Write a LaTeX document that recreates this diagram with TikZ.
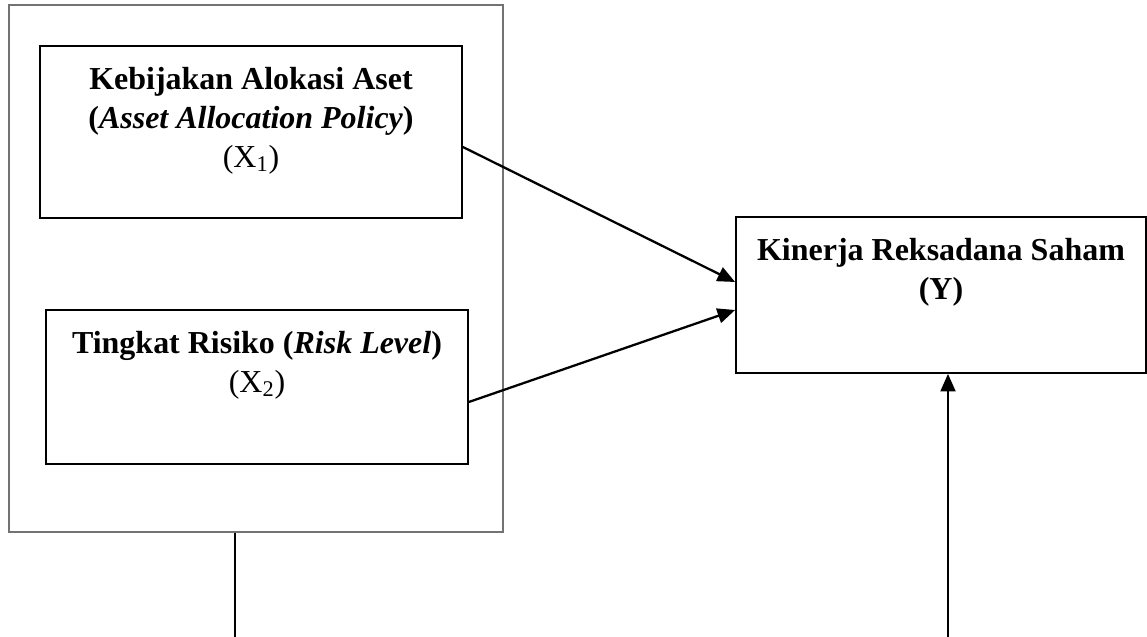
\documentclass[tikz,border=0pt]{standalone}
\usepackage{fontspec}
\setmainfont{Liberation Serif}
\usetikzlibrary{arrows.meta,positioning}

\begin{document}
\begin{tikzpicture}[
    varbox/.style={draw=black, line width=1pt, minimum width=#1},
    boxtext/.style={anchor=north, align=center, font=\fontsize{18.2}{22.2}\selectfont\bfseries, yshift=-9pt},
    link/.style={line width=1.3pt, -{Triangle[length=10pt,width=8.5pt]}}
  ]
    \useasboundingbox (0,0) rectangle (22.94,12.74);
    % Outer frame around the independent variables
    \node[draw=black!55, line width=0.7pt, minimum width=9.88cm, minimum height=10.54cm] (grp) at (5.12,7.37) {};
    % Variable boxes
    \node[varbox=8.44cm, minimum height=3.44cm] (x1) at (5.02,10.10) {};
    \node[varbox=8.44cm, minimum height=3.08cm] (x2) at (5.14,5.00) {};
    \node[varbox=8.20cm, minimum height=3.12cm] (y) at (18.82,6.84) {};
    % Labels
    \node[boxtext] (x1lbl) at (x1.north) {Kebijakan Alokasi Aset\\(\textit{Asset Allocation Policy})\\\mdseries (X\textsubscript{1})};
    \node[boxtext] (x2lbl) at (x2.north) {Tingkat Risiko (\textit{Risk Level})\\\mdseries (X\textsubscript{2})};
    \node[boxtext] (ylbl) at (y.north) {Kinerja Reksadana Saham\\(Y)};
    % Arrows into Y
    \draw[link] ([yshift=-0.30cm]x1.east) -- ([yshift=0.26cm]y.west);
    \draw[link] ([yshift=-0.30cm]x2.east) -- ([yshift=-0.30cm]y.west);
    % Lines from the bottom edge
    \coordinate (grpend) at (4.70,0);
    \coordinate (yend) at (18.96,0);
    \draw[line width=1.1pt] (grp.south -| grpend) -- (grpend);
    \draw[link] (yend) -- (yend |- y.south);
  \end{tikzpicture}
\end{document}
